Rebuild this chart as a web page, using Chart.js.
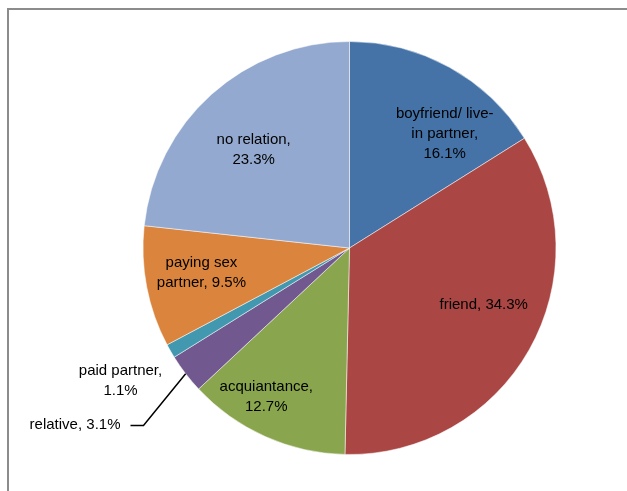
<!DOCTYPE html>
<html>
<head>
<meta charset="utf-8">
<script src="https://cdn.jsdelivr.net/npm/chart.js@4/dist/chart.umd.min.js"></script>
<style>
  html, body { margin:0; padding:0; background:#fff; }
  #wrap { position:relative; width:627px; height:491px; overflow:hidden; }
  #frame { position:absolute; left:7px; top:8px; width:700px; height:600px;
           border-top:2px solid #8c8c8c; border-left:2px solid #8c8c8c; }
  canvas { position:absolute; left:0; top:0; }
</style>
</head>
<body>
<div id="wrap">
  <div id="frame"></div>
  <canvas id="c" width="627" height="491"></canvas>
</div>
<script>
const categories = ["boyfriend/ live-in partner", "friend", "acquiantance", "relative", "paid partner", "paying sex partner", "no relation"];
const values = [16.1, 34.3, 12.7, 3.1, 1.1, 9.5, 23.3];
const labelLines = [
  ["boyfriend/ live-", "in partner,", "16.1%"],
  ["friend, 34.3%"],
  ["acquiantance,", "12.7%"],
  ["relative, 3.1%"],
  ["paid partner,", "1.1%"],
  ["paying sex", "partner, 9.5%"],
  ["no relation,", "23.3%"]
];
const colors = ["#4572A7", "#AA4643", "#89A54E", "#71588F", "#4198AF", "#DB843D", "#93A9CF"];

// label placement (fraction of radius from centre), style only
const labelPos = [
  {fx:0.461, fy:-0.551, align:'center'},
  {fx:0.650, fy:0.275, align:'center'},
  {fx:-0.403, fy:0.720, align:'center'},
  {fx:-1.109, fy:0.857, align:'right', leader:true},
  {fx:-1.109, fy:0.643, align:'center'},
  {fx:-0.717, fy:0.118, align:'center'},
  {fx:-0.464, fy:-0.473, align:'center'}
];

const labelPlugin = {
  id:'sliceLabels',
  afterDatasetsDraw(chart){
    const ctx = chart.ctx;
    const meta = chart.getDatasetMeta(0);
    const a0 = meta.data[0];
    const cx = a0.x, cy = a0.y, R = a0.outerRadius;
    ctx.save();
    ctx.font = '15px "Liberation Sans", Arial, sans-serif';
    ctx.fillStyle = '#000';
    ctx.textBaseline = 'middle';
    const lh = 20;
    labelLines.forEach((lines, i) => {
      const p = labelPos[i];
      const x = cx + p.fx * R, y = cy + p.fy * R;
      ctx.textAlign = p.align;
      const y0 = y - (lines.length - 1) * lh / 2;
      lines.forEach((t, k) => ctx.fillText(t, x, y0 + k * lh));
      if (p.leader) {
        const arc = meta.data[i];
        const mid = (arc.startAngle + arc.endAngle) / 2;
        const ex = cx + Math.cos(mid) * R, ey = cy + Math.sin(mid) * R;
        ctx.strokeStyle = '#000';
        ctx.lineWidth = 1.5;
        ctx.beginPath();
        ctx.moveTo(x + 10, y + 0.5);
        ctx.lineTo(x + 23, y + 0.5);
        ctx.lineTo(ex, ey);
        ctx.stroke();
      }
    });
    ctx.restore();
  }
};

new Chart(document.getElementById('c'), {
  type: 'pie',
  data: {
    labels: categories,
    datasets: [{
      data: values,
      backgroundColor: colors,
      borderColor: 'rgba(255,255,255,0.5)',
      borderWidth: 1
    }]
  },
  options: {
    responsive: false,
    animation: false,
    layout: { padding: { top: 41, bottom: 36, left: 142, right: 70 } },
    plugins: { legend: { display: false }, tooltip: { enabled: false } }
  },
  plugins: [labelPlugin]
});
</script>
</body>
</html>
